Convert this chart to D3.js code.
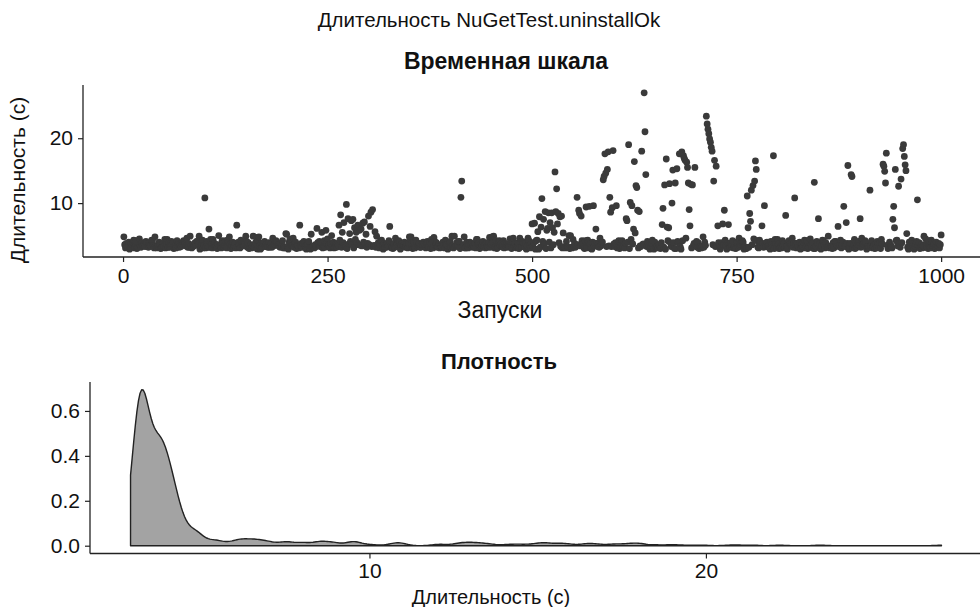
<!DOCTYPE html>
<html>
<head>
<meta charset="utf-8">
<script src="https://cdn.jsdelivr.net/npm/d3@7"></script>
<style>
  html, body { margin: 0; padding: 0; background: #fff; }
  svg text { font-family: "Liberation Sans", Arial, Helvetica, sans-serif; fill: #111; }
</style>
</head>
<body>
<svg id="chart" width="980" height="607"></svg>
<script>
// Durations (seconds) of NuGetTest.uninstallOk, one value per run, runs 1..1000
const durations = [
  4.8,3.6,3.1,3.8,3.4,3.2,4.0,2.9,3.2,3.7,3.6,3.9,4.3,3.1,3.2,4.2,3.0,3.2,3.8,4.5,
  3.5,3.2,3.9,3.5,3.4,3.7,3.3,4.1,3.9,3.8,3.2,3.8,3.5,3.4,4.3,4.2,3.5,3.1,4.8,3.3,
  3.1,3.4,3.6,4.0,3.6,3.0,3.1,3.2,3.8,3.3,4.4,3.1,3.7,4.4,3.2,3.9,3.2,3.6,4.1,3.5,
  4.0,3.0,3.2,3.3,3.1,4.2,3.4,3.8,3.2,3.6,3.3,3.6,4.0,4.2,4.0,3.7,3.4,4.6,3.2,3.8,
  3.2,4.9,3.4,3.1,3.6,3.3,3.5,3.9,3.5,4.1,4.1,3.7,4.9,2.9,3.3,3.6,4.3,3.1,3.5,10.8,
  3.1,4.1,3.6,3.2,6.0,3.2,4.4,3.7,3.1,4.4,3.6,3.8,3.2,3.5,3.0,3.6,5.0,3.3,3.4,3.1,
  4.2,3.8,3.2,3.5,4.2,3.2,3.1,4.3,3.9,4.8,3.7,3.0,3.5,4.0,3.2,3.4,3.8,3.1,6.6,3.3,
  4.0,3.5,3.1,4.3,3.8,3.6,3.5,3.4,3.7,4.9,4.1,3.2,3.9,3.0,3.3,3.6,3.1,3.4,4.9,3.2,
  3.6,3.9,4.7,2.9,4.2,4.8,3.4,2.9,3.8,3.2,3.6,3.9,4.1,3.3,3.7,3.4,3.2,3.9,3.2,3.5,
  3.8,3.2,4.6,3.4,3.7,4.0,4.2,4.0,3.5,3.6,3.3,3.2,3.8,3.4,4.2,3.1,3.3,3.1,5.3,5.2,
  3.3,2.9,4.0,4.5,4.0,3.5,3.4,4.6,3.2,3.8,4.0,3.0,3.5,3.3,3.1,6.6,3.4,3.8,3.2,3.8,
  4.1,3.7,3.4,2.9,3.6,3.6,4.1,3.1,2.9,5.2,3.2,3.3,3.4,3.1,3.6,3.3,6.1,3.9,3.5,4.1,
  3.3,3.9,5.5,3.1,3.2,4.2,3.2,5.8,3.8,4.5,3.3,3.6,3.1,3.8,5.0,3.2,4.0,3.1,3.2,3.7,
  3.2,3.8,3.5,6.6,4.3,8.2,3.2,5.5,3.9,7.0,3.5,3.2,9.8,3.0,7.6,3.7,5.3,4.1,7.3,3.6,
  7.5,3.1,6.2,4.4,5.5,3.9,6.6,3.6,5.8,3.5,6.0,3.4,6.9,4.0,7.1,3.7,5.2,3.2,3.8,8.0,
  3.6,6.4,8.6,3.3,9.0,3.4,3.5,5.6,3.2,4.9,3.3,3.9,3.1,3.6,4.2,4.3,3.4,2.9,3.8,3.2,
  3.6,3.2,3.8,3.4,4.2,6.4,3.3,3.1,3.2,3.0,3.8,3.2,4.6,3.4,3.7,4.0,4.2,4.0,2.9,3.6,
  3.7,3.5,3.5,4.0,3.2,3.4,3.8,3.1,3.8,4.8,4.5,4.8,3.2,3.0,4.2,3.2,3.1,4.3,3.9,3.3,
  3.3,3.8,3.2,3.2,3.7,3.6,4.0,3.6,3.4,3.1,3.5,4.1,3.3,3.2,3.9,3.0,4.4,4.0,3.1,4.7,
  4.1,3.5,3.9,3.2,3.3,3.6,3.1,3.4,3.3,3.2,4.0,3.5,3.1,4.3,3.6,3.6,2.9,3.4,3.7,4.1,
  3.2,4.9,3.4,3.1,4.9,3.3,3.5,3.9,3.5,4.1,4.1,3.0,10.9,13.4,3.3,3.6,4.8,3.1,3.1,4.0,
  3.4,3.1,3.6,4.0,3.7,3.8,3.2,3.5,3.3,3.8,3.1,4.4,4.4,3.7,3.9,3.0,3.6,3.2,3.5,4.1,
  3.3,3.6,3.1,3.8,3.4,3.2,4.0,4.7,3.2,3.7,4.8,3.9,4.9,3.1,3.2,4.2,3.0,3.2,3.8,4.2,
  3.5,3.7,3.3,3.2,4.2,3.1,3.8,3.4,3.6,3.2,3.6,3.3,4.5,4.0,3.0,4.0,4.6,3.4,3.8,3.2,
  3.1,3.2,3.9,3.0,4.6,4.0,3.3,4.1,3.9,3.8,3.2,3.8,2.9,3.4,4.6,4.2,3.5,3.1,3.9,6.8,
  3.3,3.9,6.9,2.9,4.2,4.3,5.6,2.9,7.9,3.2,6.3,10.7,4.1,7.5,3.7,8.7,3.0,5.8,6.1,8.5,
  4.0,7.0,3.1,8.5,6.2,3.6,5.5,14.8,8.7,12.2,6.8,8.4,3.9,7.9,3.3,8.0,3.1,5.4,3.3,3.2,
  3.1,4.1,3.3,3.2,5.0,3.0,5.0,3.2,3.1,4.4,3.3,3.8,3.2,3.5,10.9,3.6,8.9,8.4,3.4,8.0,
  4.2,3.8,3.2,3.0,4.2,9.4,3.1,4.3,3.9,9.5,3.7,3.0,2.9,4.0,9.6,3.4,3.8,6.0,3.8,3.3,
  3.8,3.2,4.6,3.4,3.7,4.0,13.6,14.1,17.6,14.6,3.3,15.2,17.9,3.4,10.9,8.6,3.3,9.3,18.1,3.7,
  3.3,3.9,9.6,3.1,3.2,4.2,3.0,3.2,3.8,4.2,3.3,3.6,3.1,3.8,7.6,7.3,4.0,19.0,3.0,10.1,
  4.4,9.6,3.7,6.0,16.4,5.4,12.7,12.4,8.9,3.1,8.7,3.4,3.3,18.0,3.6,3.7,27.0,21.0,14.4,3.3,
  4.1,3.7,3.4,2.9,3.3,3.8,4.3,3.1,2.9,4.0,3.2,3.3,3.4,3.1,3.6,3.3,3.0,3.9,6.7,9.2,
  3.2,12.8,2.9,16.8,6.3,4.2,6.2,13.0,3.9,3.3,10.0,15.1,3.9,3.0,13.1,3.0,15.3,4.1,3.9,17.6,
  3.3,2.9,17.9,4.2,17.3,16.9,16.6,4.6,16.3,15.5,13.1,9.0,6.5,12.9,3.1,12.8,3.4,3.8,15.5,3.6,
  4.1,3.2,3.9,3.0,3.3,3.3,3.1,3.4,4.8,3.2,4.0,3.5,23.4,22.2,21.4,20.7,19.9,19.4,18.6,18.0,
  3.6,13.4,16.6,3.3,15.7,3.4,6.5,3.9,3.2,2.9,3.3,3.9,6.8,3.5,8.9,4.3,3.4,2.9,3.8,6.7,
  3.8,3.2,3.8,3.4,4.2,3.1,3.3,3.1,3.0,4.0,3.8,3.2,4.6,3.4,3.7,4.0,4.2,4.0,2.9,3.3,
  3.0,3.0,11.1,6.2,3.2,8.4,7.2,12.0,3.6,12.7,4.5,13.4,16.5,15.2,4.2,3.2,3.1,4.3,3.9,3.3,
  6.5,3.8,3.2,9.6,3.7,3.3,4.0,3.3,3.4,3.1,2.9,4.1,3.6,3.2,17.3,3.0,4.4,3.7,3.1,4.4,
  3.7,3.0,3.1,3.3,3.1,4.2,3.4,3.8,3.2,8.1,3.3,2.9,4.0,4.2,4.0,3.7,3.4,4.6,3.2,3.8,
  10.8,3.8,3.1,3.8,3.4,3.2,4.0,2.9,3.0,3.7,3.3,3.9,4.3,3.1,3.2,4.2,3.0,3.2,3.8,4.5,
  3.5,3.2,3.9,3.0,13.2,3.0,3.3,4.1,3.9,7.6,3.2,3.8,2.9,3.4,4.3,4.2,3.5,3.1,3.9,3.3,
  3.2,4.9,3.4,3.1,3.3,3.3,3.0,3.9,3.1,4.1,4.1,3.7,3.4,6.4,3.3,3.6,4.3,3.1,3.5,4.0,
  9.5,3.4,3.3,7.0,3.8,15.8,2.9,3.2,3.8,14.4,14.1,3.1,3.7,4.4,3.0,3.9,3.2,3.6,4.1,3.5,
  7.6,3.2,4.6,3.4,3.7,4.0,4.2,4.0,2.9,3.3,3.3,3.2,12.0,3.4,4.2,3.1,3.3,3.5,3.0,3.7,
  3.1,4.1,3.6,3.2,3.9,3.0,4.4,3.7,16.0,15.7,14.9,13.1,17.7,3.5,3.0,3.6,4.0,3.3,3.4,3.1,
  7.5,9.5,6.2,15.2,4.2,4.3,3.4,12.6,3.8,3.2,13.7,3.9,18.4,19.0,17.2,15.9,15.0,5.3,3.2,2.9,
  4.0,3.2,3.1,4.3,3.8,3.3,2.9,3.4,3.7,4.1,10.5,3.5,3.9,3.0,3.3,3.6,3.1,3.4,4.9,3.2,
  4.5,3.8,3.2,3.0,4.2,3.2,3.1,4.3,3.9,3.3,3.7,3.0,3.1,4.0,3.2,3.4,3.8,3.1,3.6,5.1
];

// Axis ticks
const runTicks = [0, 250, 500, 750, 1000];
const durationTicksTop = [10, 20];
const durationTicksBottom = [10, 20];
const densityTicks = [0, 0.2, 0.4, 0.6];

// Texts
const mainTitle = "Длительность NuGetTest.uninstallOk";
const timelineTitle = "Временная шкала";
const densityTitle = "Плотность";
const runsLabel = "Запуски";
const durationLabel = "Длительность (с)";

const svg = d3.select("#chart");
const ink = "#222";
const tickSize = 21;

// pad a numeric extent by 5% on both sides
function padded(ext) {
  const r = ext[1] - ext[0];
  return [ext[0] - 0.05 * r, ext[1] + 0.05 * r];
}

const runs = durations.map((d, i) => ({ run: i + 1, dur: d }));
const durExtent = d3.extent(durations);

// ---------- Timeline panel ----------
const pTop = { left: 83, right: 982, top: 85, bottom: 257 };
const xRun = d3.scaleLinear().domain(padded([1, durations.length])).range([pTop.left, pTop.right]);
const yDur = d3.scaleLinear().domain(padded(durExtent)).range([pTop.bottom, pTop.top]);

const gTop = svg.append("g");
gTop.append("g")
  .selectAll("circle")
  .data(runs)
  .join("circle")
  .attr("cx", d => xRun(d.run))
  .attr("cy", d => yDur(d.dur))
  .attr("r", 3.4)
  .attr("fill", "#3a3a3a");

const axTopX = gTop.append("g")
  .attr("transform", `translate(0,${pTop.bottom})`)
  .call(d3.axisBottom(xRun).tickValues(runTicks).tickSize(5).tickPadding(6).tickFormat(d3.format("d")));
const axTopY = gTop.append("g")
  .attr("transform", `translate(${pTop.left},0)`)
  .call(d3.axisLeft(yDur).tickValues(durationTicksTop).tickSize(5).tickPadding(5).tickFormat(d3.format("d")));

// ---------- Density panel ----------
const pBot = { left: 90, right: 982, top: 382, bottom: 553.5 };

// Gaussian kernel density with R's nrd0 bandwidth
const sorted = durations.slice().sort(d3.ascending);
const n = sorted.length;
const sd = d3.deviation(sorted);
const iqr = d3.quantileSorted(sorted, 0.75) - d3.quantileSorted(sorted, 0.25);
const bw = 0.9 * Math.min(sd, iqr / 1.34) * Math.pow(n, -0.2);
const gridX = d3.range(512).map(i => durExtent[0] + (durExtent[1] - durExtent[0]) * i / 511);
const norm = 1 / (n * bw * Math.sqrt(2 * Math.PI));
const dens = gridX.map(x => {
  let s = 0;
  for (const v of sorted) { const z = (x - v) / bw; s += Math.exp(-0.5 * z * z); }
  return { x, y: s * norm };
});
const maxDens = d3.max(dens, d => d.y);

const xD = d3.scaleLinear().domain(padded(durExtent)).range([pBot.left, pBot.right]);
const yD = d3.scaleLinear().domain(padded([0, maxDens])).range([pBot.bottom, pBot.top]);

const gBot = svg.append("g");
const poly = [{ x: durExtent[0], y: 0 }, ...dens, { x: durExtent[1], y: 0 }];
gBot.append("path")
  .datum(poly)
  .attr("d", d3.line().x(d => xD(d.x)).y(d => yD(d.y)).curve(d3.curveLinearClosed))
  .attr("fill", "#a3a3a3")
  .attr("stroke", ink)
  .attr("stroke-width", 1.4)
  .attr("stroke-linejoin", "round");

const axBotX = gBot.append("g")
  .attr("transform", `translate(0,${pBot.bottom})`)
  .call(d3.axisBottom(xD).tickValues(durationTicksBottom).tickSize(5).tickPadding(5).tickFormat(d3.format("d")));
const axBotY = gBot.append("g")
  .attr("transform", `translate(${pBot.left},0)`)
  .call(d3.axisLeft(yD).tickValues(densityTicks).tickSize(5).tickPadding(5).tickFormat(d3.format(".1f")));

// axis styling: full-length lines, no end caps
[axTopX, axTopY, axBotX, axBotY].forEach(ax => {
  ax.select(".domain").remove();
  ax.selectAll(".tick line").attr("stroke", ink).attr("stroke-width", 1.2);
  ax.selectAll(".tick text").attr("fill", "#111").style("font-size", tickSize + "px")
    .style("font-family", '"Liberation Sans", Arial, Helvetica, sans-serif');
});
svg.append("line").attr("x1", pTop.left).attr("x2", 980).attr("y1", pTop.bottom).attr("y2", pTop.bottom)
  .attr("stroke", ink).attr("stroke-width", 1.3);
svg.append("line").attr("x1", pTop.left).attr("x2", pTop.left).attr("y1", pTop.top).attr("y2", pTop.bottom)
  .attr("stroke", ink).attr("stroke-width", 1.3);
svg.append("line").attr("x1", pBot.left).attr("x2", 980).attr("y1", pBot.bottom).attr("y2", pBot.bottom)
  .attr("stroke", ink).attr("stroke-width", 1.3);
svg.append("line").attr("x1", pBot.left).attr("x2", pBot.left).attr("y1", pBot.top).attr("y2", pBot.bottom)
  .attr("stroke", ink).attr("stroke-width", 1.3);

// ---------- Titles and labels ----------
svg.append("text").attr("x", 489).attr("y", 27).attr("text-anchor", "middle")
  .style("font-size", "20.5px").text(mainTitle);
svg.append("text").attr("x", 506).attr("y", 69).attr("text-anchor", "middle")
  .style("font-size", "23px").style("font-weight", "bold").text(timelineTitle);
svg.append("text").attr("x", 499).attr("y", 369).attr("text-anchor", "middle")
  .style("font-size", "22px").style("font-weight", "bold").text(densityTitle);
svg.append("text").attr("x", 500).attr("y", 318).attr("text-anchor", "middle")
  .style("font-size", "23px").text(runsLabel);
svg.append("text").attr("x", 491).attr("y", 604).attr("text-anchor", "middle")
  .style("font-size", "20px").text(durationLabel);
svg.append("text").attr("transform", "translate(25,180) rotate(-90)").attr("text-anchor", "middle")
  .style("font-size", "21px").text(durationLabel);
</script>
</body>
</html>
